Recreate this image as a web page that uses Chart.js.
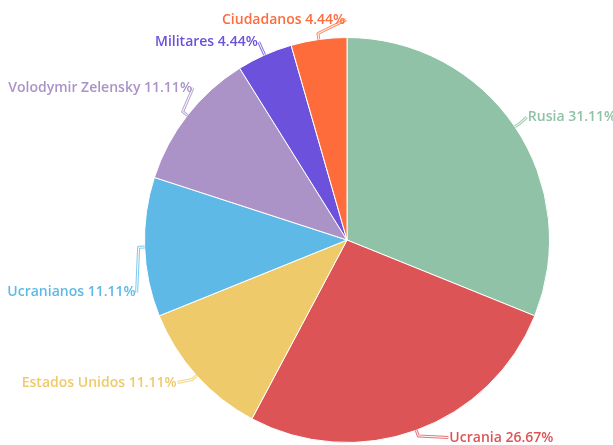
<!DOCTYPE html>
<html>
<head>
<meta charset="utf-8">
<script src="https://cdn.jsdelivr.net/npm/chart.js@4.4.0/dist/chart.umd.min.js"></script>
<style>
  body { margin: 0; background: #fff; }
  canvas { display: block; }
</style>
</head>
<body>
<canvas id="myChart" width="613" height="445"></canvas>
<script>
// data (counts out of 45)
let labels = ['Rusia', 'Ucrania', 'Estados Unidos', 'Ucranianos', 'Volodymir Zelensky', 'Militares', 'Ciudadanos'];
let counts = [14, 12, 5, 5, 5, 2, 2];
let colors = ['#8fc2a6', '#dc5456', '#efca6b', '#5eb9e6', '#ab93c8', '#6c51dc', '#fe6c3c'];

// small nudges for the outside labels so they don't overlap
let labelNudge = [[2, -3], [28, -4], [-10, -1], [4, 45], [15, -20], [-1, -2], [29, -8]];

let total = counts.reduce(function (a, b) { return a + b; }, 0);

function pct(v) {
    return (v / total * 100).toFixed(2) + '%';
}

// draw labels + leader lines outside the pie
let outsideLabels = {
    id: 'outsideLabels',
    afterDatasetsDraw: function (chart) {
        let ctx = chart.ctx;
        let meta = chart.getDatasetMeta(0);
        ctx.save();
        ctx.font = '600 14px "Open Sans", sans-serif';
        ctx.textBaseline = 'middle';
        meta.data.forEach(function (arc, i) {
            let p = arc.getProps(['x', 'y', 'startAngle', 'endAngle', 'outerRadius'], true);
            let mid = (p.startAngle + p.endAngle) / 2;
            let cos = Math.cos(mid), sin = Math.sin(mid);
            let r = p.outerRadius;
            let x0 = p.x + cos * r, y0 = p.y + sin * r;
            let x1 = p.x + cos * (r + 6), y1 = p.y + sin * (r + 6);
            let ax = p.x + cos * (r + 12) + labelNudge[i][0];
            let ay = p.y + sin * (r + 12) + labelNudge[i][1];
            let right = cos >= 0;
            let tx = right ? ax + 1 : ax - 1;

            // leader line: coloured outline with a white core
            ctx.lineJoin = 'round';
            ctx.beginPath();
            ctx.moveTo(x0, y0);
            ctx.lineTo(x1, y1);
            ctx.lineTo(ax, ay);
            ctx.strokeStyle = colors[i];
            ctx.globalAlpha = 0.8;
            ctx.lineWidth = 3;
            ctx.stroke();
            ctx.globalAlpha = 1;
            ctx.strokeStyle = '#fff';
            ctx.lineWidth = 1;
            ctx.stroke();

            ctx.fillStyle = colors[i];
            ctx.textAlign = right ? 'left' : 'right';
            ctx.fillText(labels[i] + ' ' + pct(counts[i]), tx, ay);
        });
        ctx.restore();
    }
};

let ctx = document.getElementById('myChart').getContext('2d');
let myChart = new Chart(ctx, {
    type: 'pie',
    data: {
        labels: labels,
        datasets: [{
            data: counts,
            backgroundColor: colors,
            borderColor: '#fff',
            borderWidth: 1
        }]
    },
    options: {
        responsive: false,
        animation: false,
        layout: {
            padding: { left: 144, right: 63, top: 37, bottom: 2 }
        },
        plugins: {
            legend: { display: false },
            tooltip: { enabled: false }
        }
    },
    plugins: [outsideLabels]
});
</script>
</body>
</html>
